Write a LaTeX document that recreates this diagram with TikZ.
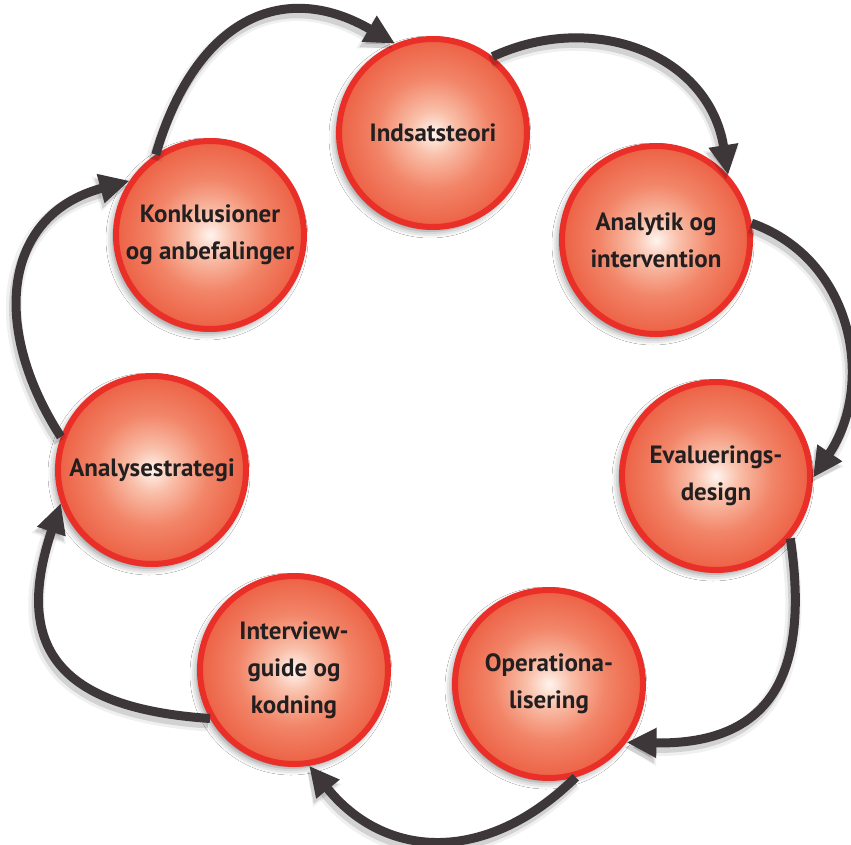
\documentclass[tikz,border=0pt]{standalone}
\usepackage{fontspec}
\setmainfont{PT Sans}
\usetikzlibrary{arrows.meta,shadows.blur}
\definecolor{ringred}{HTML}{EA2E28}
\definecolor{arrowgray}{HTML}{3D3739}
\definecolor{txt}{HTML}{231F20}
\definecolor{shA}{HTML}{FFF4EE}
\definecolor{shB}{HTML}{F9BFA9}
\definecolor{shC}{HTML}{F28568}
\definecolor{shD}{HTML}{EC5E42}
\definecolor{shE}{HTML}{E84B33}
\definecolor{shF}{HTML}{E5402B}
\pgfdeclareradialshading{redball}{\pgfpoint{0bp}{0bp}}{color(0bp)=(shA); color(6bp)=(shB); color(15bp)=(shC); color(26bp)=(shD); color(38bp)=(shE); color(50bp)=(shF)}
\tikzset{
  stage/.style={circle, minimum size=188pt, inner sep=0pt, line width=6pt,
    draw=ringred, shade, shading=redball, text=txt, align=center,
    font=\bfseries\fontsize{25}{37}\selectfont,
    blur shadow={shadow xshift=-3pt, shadow yshift=-4pt, shadow blur radius=7pt, shadow opacity=50}},
  flow/.style={line width=9pt, draw=arrowgray, -{Triangle[length=30pt,width=28pt]}},
  flowshadowA/.style={line width=16pt, draw=black, opacity=0.06, -{Triangle[length=32pt,width=34pt]}, transform canvas={shift={(-2pt,-5pt)}}},
  flowshadowB/.style={line width=10pt, draw=black, opacity=0.12, -{Triangle[length=30pt,width=29pt]}, transform canvas={shift={(-2pt,-5pt)}}}
}
\newcommand\flowarrow[4]{%
  \draw[flowshadowA] (#1) .. controls (#2) and (#3) .. (#4);
  \draw[flowshadowB] (#1) .. controls (#2) and (#3) .. (#4);
  \draw[flow] (#1) .. controls (#2) and (#3) .. (#4);
}
\begin{document}
\begin{tikzpicture}[x=1pt,y=-1pt]
\useasboundingbox[fill=white] (0,0) rectangle (851,845);
\node[stage] (ind) at (433,133) {Indsatsteori};
\node[stage] (ana) at (656,240) {Analytik og\\intervention};
\node[stage] (eva) at (716,476) {Evaluerings-\\design};
\node[stage] (ope) at (549,684) {Operationa-\\lisering};
\node[stage] (int) at (294,670) {Interview-\\guide og\\kodning};
\node[stage] (str) at (152,470) {Analysestrategi};
\node[stage] (kon) at (210,235) {Konklusioner\\og anbefalinger};
\flowarrow{kon.124}{194,23}{280,-23}{ind.113}
\flowarrow{ind.52}{593,10}{709,54}{ana.42}
\flowarrow{ana.10}{855,260}{875,386}{eva.-1}
\flowarrow{eva.-40}{811,678}{768,745}{ope.-37}
\flowarrow{ope.-74}{488,864}{386,861}{int.-81}
\flowarrow{int.210}{57,708}{13,646}{str.200}
\flowarrow{str.160}{-9.5,328}{2,215}{kon.146}
\end{tikzpicture}
\end{document}
